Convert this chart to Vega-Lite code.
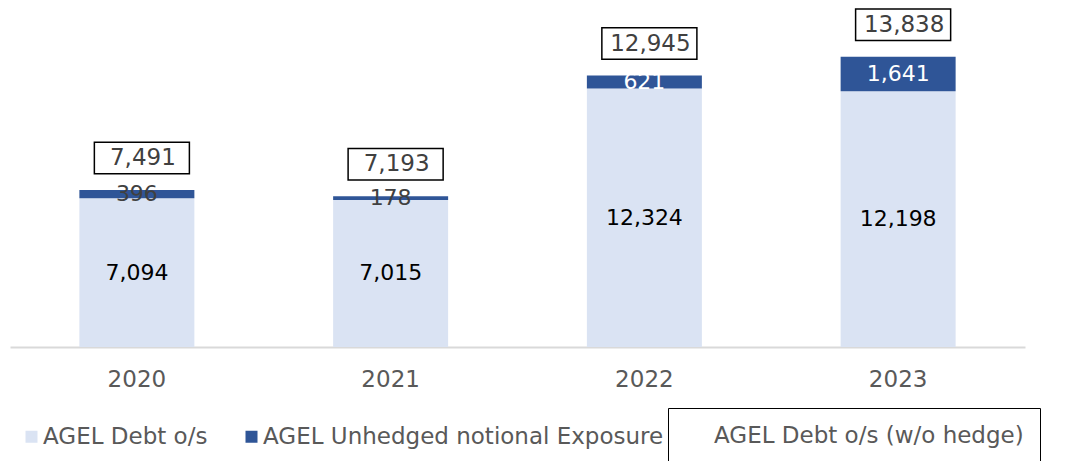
{
  "$schema": "https://vega.github.io/schema/vega-lite/v6.json",
  "width": 1015,
  "height": 347,
  "autosize": {"type": "none"},
  "padding": {"left": 10, "top": 0, "right": 51, "bottom": 114},
  "background": "white",
  "config": {"view": {"stroke": null}, "font": "DejaVu Sans"},
  "datasets": {
    "bars": [
      {"year": "2020", "series": "AGEL Debt o/s", "value": 7094},
      {"year": "2020", "series": "AGEL Unhedged notional Exposure", "value": 396},
      {"year": "2021", "series": "AGEL Debt o/s", "value": 7015},
      {"year": "2021", "series": "AGEL Unhedged notional Exposure", "value": 178},
      {"year": "2022", "series": "AGEL Debt o/s", "value": 12324},
      {"year": "2022", "series": "AGEL Unhedged notional Exposure", "value": 621},
      {"year": "2023", "series": "AGEL Debt o/s", "value": 12198},
      {"year": "2023", "series": "AGEL Unhedged notional Exposure", "value": 1641}
    ],
    "totals": [
      {"year": "2020", "total": 7491},
      {"year": "2021", "total": 7193},
      {"year": "2022", "total": 12945},
      {"year": "2023", "total": 13838}
    ]
  },
  "layer": [
    {
      "data": {"name": "bars"},
      "mark": {"type": "bar", "width": 115},
      "encoding": {
        "x": {
          "field": "year", "type": "ordinal",
          "scale": {"paddingInner": 0.55, "paddingOuter": 0.275},
          "axis": {"title": null, "labelFontSize": 23, "labelColor": "#595959", "ticks": false, "domainColor": "#D9D9D9", "domainWidth": 2, "labelPadding": 21, "labelAngle": 0}
        },
        "y": {"field": "value", "type": "quantitative", "stack": "zero", "scale": {"domain": [0, 16550], "nice": false}, "axis": null},
        "color": {
          "field": "series", "type": "nominal",
          "scale": {"domain": ["AGEL Debt o/s", "AGEL Unhedged notional Exposure"], "range": ["#DAE3F3", "#2F5597"]},
          "legend": {
            "orient": "none", "legendX": 10, "legendY": 425, "direction": "horizontal", "title": null,
            "symbolType": "square", "symbolSize": 144, "symbolStrokeWidth": 0,
            "labelFontSize": 23, "labelColor": "#595959", "labelLimit": 0, "labelOffset": 0, "columnPadding": 32
          }
        },
        "order": {"field": "series", "sort": "ascending"}
      }
    },
    {
      "data": {"name": "bars"},
      "mark": {"type": "text", "fontSize": 22},
      "encoding": {
        "x": {"field": "year", "type": "ordinal"},
        "y": {"field": "value", "type": "quantitative", "stack": "zero", "bandPosition": 0.5},
        "detail": {"field": "series"},
        "order": {"field": "series", "sort": "ascending"},
        "text": {"field": "value", "type": "quantitative", "format": ","},
        "color": {
          "condition": [
            {"test": "datum.series === 'AGEL Unhedged notional Exposure' && datum.year >= '2022'", "value": "#ffffff"},
            {"test": "datum.series === 'AGEL Unhedged notional Exposure'", "value": "#404040"}
          ],
          "value": "#000000"
        }
      }
    },
    {
      "data": {"name": "totals"},
      "mark": {"type": "point", "shape": "M-1.6,-0.53H1.6V0.53H-1.6Z", "size": 3528, "filled": true, "fill": "white", "strokeWidth": 1.5, "opacity": 1, "yOffset": -32, "xOffset": 5},
      "encoding": {
        "x": {"field": "year", "type": "ordinal"},
        "y": {"field": "total", "type": "quantitative"},
        "stroke": {
          "datum": "AGEL Debt o/s (w/o hedge)", "type": "nominal",
          "scale": {"range": ["black"]},
          "legend": {
            "orient": "none", "legendX": 658, "legendY": 408, "title": null,
            "strokeColor": "black", "padding": 16,
            "symbolType": "square", "symbolSize": 400, "symbolOpacity": 0,
            "labelFontSize": 23, "labelColor": "#595959", "labelLimit": 0, "labelOffset": 7,
            "labelExpr": "datum.label + '\u00a0\u00a0'",
            "encode": {"legend": {"strokeWidth": {"value": 2}}}
          }
        }
      }
    },
    {
      "data": {"name": "totals"},
      "mark": {"type": "text", "fontSize": 23, "color": "#404040", "yOffset": -32, "xOffset": 6},
      "encoding": {
        "x": {"field": "year", "type": "ordinal"},
        "y": {"field": "total", "type": "quantitative"},
        "text": {"field": "total", "type": "quantitative", "format": ","}
      }
    }
  ]
}
